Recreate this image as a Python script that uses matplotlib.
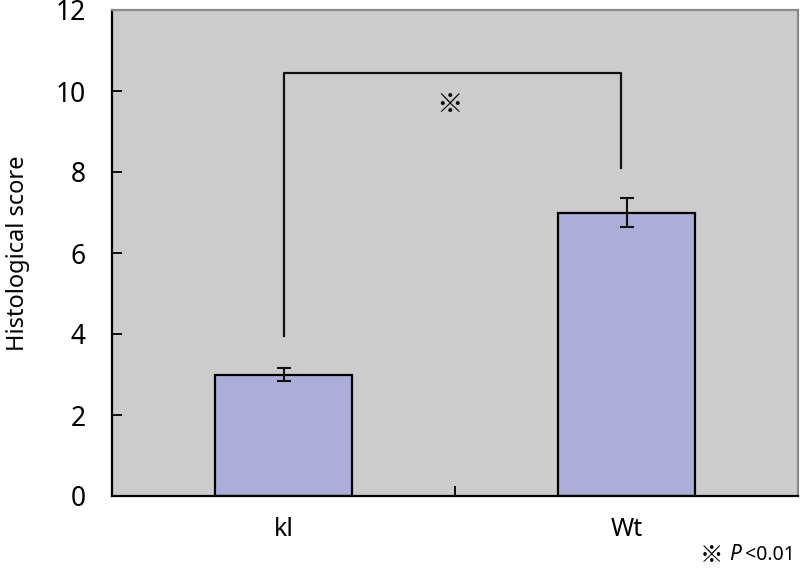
import matplotlib
matplotlib.use("Agg")
import matplotlib.pyplot as plt
import numpy as np

categories = ["kl", "Wt"]
values = [3.0, 7.0]
errors = [0.16, 0.35]
yticks = [0, 2, 4, 6, 8, 10, 12]
bracket_left_bottom = 3.95
bracket_right_bottom = 8.1
bracket_top = 10.45
sig_mark = "※"
footnote_p = "P"
footnote_rest = "<0.01"

plt.rcParams['font.family'] = ['Noto Sans', 'Noto Sans CJK JP', 'DejaVu Sans']

fig = plt.figure(figsize=(8, 5.73), dpi=100)
ax = fig.add_axes([112/800, 1-496/573, (798-112)/800, (496-10)/573])
ax.set_facecolor('#cccccc')

x = np.arange(len(categories))
ax.bar(x, values, width=0.4, color='#adadd9', edgecolor='black', linewidth=1.6, zorder=2)
ax.errorbar(x, values, yerr=errors, fmt='none', ecolor='#111111', elinewidth=1.5,
            capsize=5, capthick=1.5, zorder=3)

ax.set_xlim(-0.5, 1.5)
ax.set_ylim(0, 12)
ax.set_yticks(yticks)
ax.set_xticks(x)
ax.set_xticklabels(categories, fontsize=18)
ax.set_xticks([0.5], minor=True)
ax.tick_params(axis='x', which='major', length=0, pad=15)
ax.tick_params(axis='x', which='minor', direction='in', length=7, width=1.3, color='black')
ax.tick_params(axis='y', direction='in', length=7, width=1.3, labelsize=19, pad=19, color='black')

for s in ['left', 'bottom']:
    ax.spines[s].set_color('black')
    ax.spines[s].set_linewidth(1.6)
for s in ['top', 'right']:
    ax.spines[s].set_color('#8a8a8a')
    ax.spines[s].set_linewidth(1.6)

ax.set_ylabel("Histological score", fontsize=17)
ax.yaxis.set_label_coords(-0.12, 0.5)

# significance bracket
xl, xr = x[0], x[1] - 0.015
ax.plot([xl, xl, xr, xr], [bracket_left_bottom, bracket_top, bracket_top, bracket_right_bottom],
        color='#111111', linewidth=1.6, zorder=3)
ax.text(0.485, 9.63, sig_mark, ha='center', va='center', fontsize=19, color='black',
        family=['Noto Sans CJK JP'])

# footnote
fig.text(712/800, 1-555/573, sig_mark, ha='center', va='center', fontsize=17,
         family=['Noto Sans CJK JP'])
fig.text(729/800, 1-555/573, footnote_p, ha='left', va='center', fontsize=15, style='italic')
fig.text(745/800, 1-555/573, footnote_rest, ha='left', va='center', fontsize=14)

fig.savefig("out.png", dpi=100)
